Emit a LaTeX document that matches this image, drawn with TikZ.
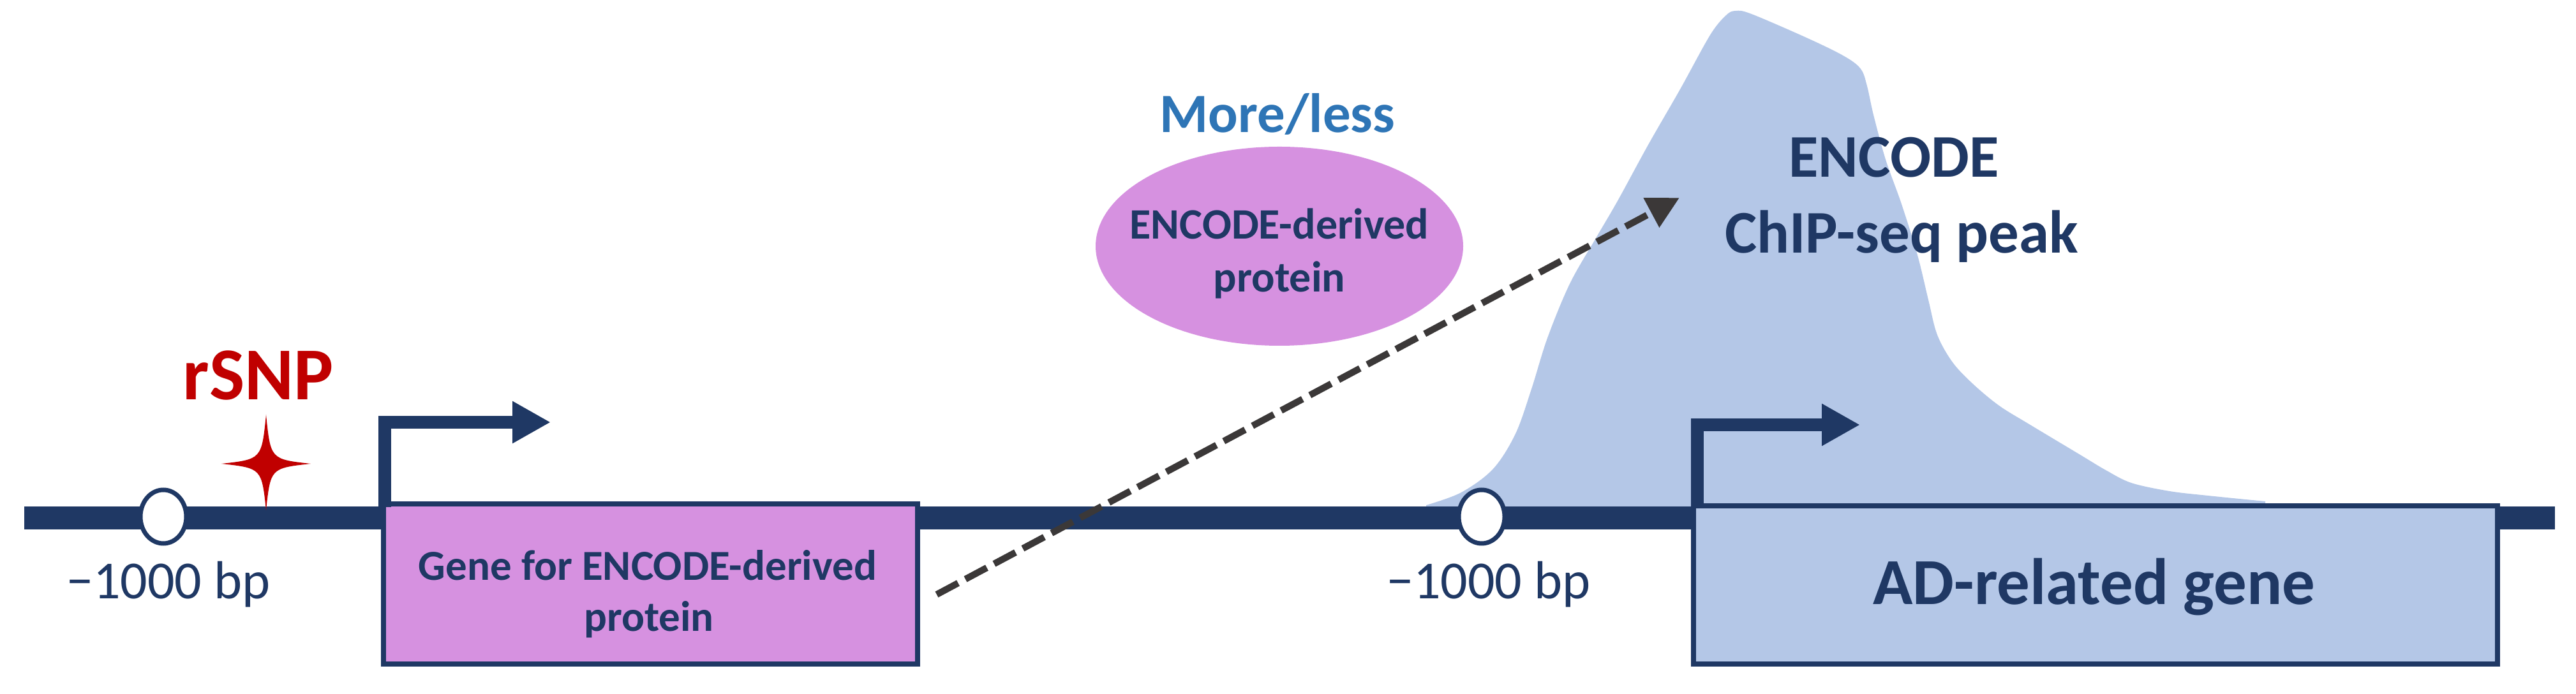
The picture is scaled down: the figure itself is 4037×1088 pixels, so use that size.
\documentclass[tikz,border=0pt]{standalone}
\usepackage{fontspec}
\setmainfont{Carlito}
\usetikzlibrary{arrows.meta,shapes.geometric}
\definecolor{navy}{HTML}{1F3864}
\definecolor{orchid}{HTML}{D691E0}
\definecolor{peakblue}{HTML}{B4C7E7}
\definecolor{snpred}{HTML}{C00000}
\definecolor{mlblue}{HTML}{2E75B6}
\definecolor{dgray}{HTML}{3B3838}
\begin{document}
\begin{tikzpicture}[x=0.25pt,y=-0.25pt,
  lbl/.style={inner sep=0pt, outer sep=0pt, anchor=base, text=navy},
  genebox/.style={rectangle, draw=navy, line width=2pt, inner sep=0pt, outer sep=0pt},
  site/.style={ellipse, draw=navy, line width=1.75pt, fill=white, inner sep=0pt,
               minimum width=18pt, minimum height=21pt},
  promoter/.style={draw=navy, line width=5pt, line join=miter,
               -{Triangle[length=15pt,width=15.5pt]}},
  regarrow/.style={draw=dgray, line width=2.6pt, dash pattern=on 9.5pt off 3.25pt,
               -{Triangle[length=12.5pt,width=12.5pt]}}]
\useasboundingbox (0,0) rectangle (4037,1088);

% ChIP-seq peak
\fill[peakblue] plot[smooth, tension=0.55] coordinates {(2235,792) (2290,772) (2340,735)
  (2375,680) (2400,610) (2425,530) (2460,445) (2500,375) (2535,315) (2583,227)
  (2633,140) (2680,55) (2705,24) (2720,17) (2745,22) (2833,60) (2890,88) (2916,108)
  (2926,135) (2936,180) (2955,250) (2980,320) (3005,400) (3022,470) (3036,525)
  (3060,568) (3092,602) (3133,636) (3180,665) (3260,713) (3300,737) (3340,757)
  (3400,770) (3460,777) (3550,786)} -- (3550,800) -- (2235,800) -- cycle;

% DNA line
\coordinate (dnaL) at (38,812);
\coordinate (dnaR) at (4004,812);
\draw[navy, line width=9pt] (dnaL) -- (dnaR);

% gene boxes
\node[genebox, fill=orchid, minimum width=209.25pt, minimum height=62.75pt] (box1) at (1019.5,915.5) {};
\node[genebox, fill=peakblue, minimum width=315pt, minimum height=62pt] (box2) at (3284,917) {};

% -1000 bp sites
\node[site] (site1) at (256,810) {};
\node[site] (site2) at (2322,810) {};

% rSNP star
\fill[snpred] (417,650) .. controls (424,720) .. (487,727)
  .. controls (424,734) .. (417,800)
  .. controls (410,734) .. (347,727)
  .. controls (410,720) .. cycle;

% promoter arrows
\coordinate (p1a) at (603,795);
\coordinate (p1b) at (863,662);
\draw[promoter] (p1a) |- (p1b);
\coordinate (p2a) at (2660,795);
\coordinate (p2b) at (2915,666);
\draw[promoter] (p2a) |- (p2b);

% protein ellipse
\node[ellipse, fill=orchid, inner sep=0pt, minimum width=144pt, minimum height=78pt] (prot) at (2005,386) {};

% dashed regulation arrow
\coordinate (dtail) at (1468,932);
\coordinate (dhead) at (2632,310);
\draw[regarrow] (dtail) -- (dhead);

% texts
\node[lbl, text=snpred, font={\bfseries\fontsize{29.25pt}{35pt}\selectfont}] (rsnp) at (405,627) {rSNP};
\node[lbl, font={\fontsize{21pt}{25pt}\selectfont}] (bp1) at (264,939) {−1000 bp};
\node[lbl, font={\fontsize{21pt}{25pt}\selectfont}] (bp2) at (2333,939) {−1000 bp};
\node[lbl, font={\bfseries\fontsize{16.75pt}{20pt}\selectfont}] (g1a) at (1015,910) {Gene for ENCODE-derived};
\node[lbl, font={\bfseries\fontsize{16.75pt}{20pt}\selectfont}] (g1b) at (1017,990) {protein};
\node[lbl, text=mlblue, font={\bfseries\fontsize{21.75pt}{26pt}\selectfont}] (ml) at (2002,208) {More/less};
\node[lbl, font={\bfseries\fontsize{17pt}{20pt}\selectfont}] (pa) at (2005,375) {ENCODE-derived};
\node[lbl, font={\bfseries\fontsize{17pt}{20pt}\selectfont}] (pb) at (2005,458) {protein};
\node[lbl, font={\bfseries\fontsize{23.75pt}{28pt}\selectfont}] (enc) at (2968,278) {ENCODE};
\node[lbl, font={\bfseries\fontsize{23.75pt}{28pt}\selectfont}] (chip) at (2980,397) {ChIP-seq peak};
\node[lbl, font={\bfseries\fontsize{25.75pt}{30pt}\selectfont}] (adg) at (3282,948) {AD-related gene};
\end{tikzpicture}
\end{document}
